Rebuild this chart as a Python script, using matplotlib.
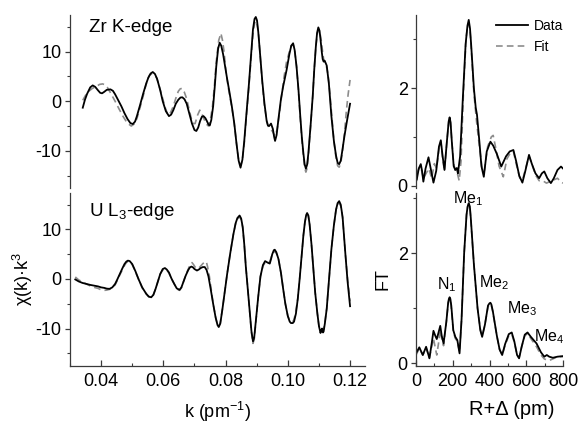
import matplotlib
matplotlib.use('Agg')
import matplotlib.pyplot as plt
from matplotlib.ticker import MultipleLocator

plt.rcParams['font.family'] = ['Liberation Sans', 'DejaVu Sans']
plt.rcParams['mathtext.fontset'] = 'custom'
plt.rcParams['mathtext.rm'] = 'Liberation Sans'
plt.rcParams['mathtext.it'] = 'Liberation Sans:italic'
plt.rcParams['mathtext.default'] = 'regular'
plt.rcParams['axes.unicode_minus'] = False

# ---------------- Zr K-edge, k-space ----------------
zr_k_data = [0.0341, 0.0348, 0.0355, 0.0365, 0.0373, 0.0381, 0.0390, 0.0397, 0.0403, 0.0410,
             0.0418, 0.0430, 0.0438, 0.0445, 0.0455, 0.0465, 0.0475, 0.0485, 0.0494, 0.0502,
             0.0509, 0.0515, 0.0525, 0.0535, 0.0545, 0.0552, 0.0559, 0.0566, 0.0573, 0.0580,
             0.0590, 0.0598, 0.0608, 0.0618, 0.0625, 0.0632, 0.0640, 0.0648, 0.0655, 0.0661,
             0.0668, 0.0675, 0.0684, 0.0692, 0.0700, 0.0706, 0.0712, 0.0718, 0.0724, 0.0729,
             0.0735, 0.0740, 0.0745, 0.0749, 0.0754, 0.0760, 0.0765, 0.0770, 0.0776, 0.0781,
             0.0786, 0.0792, 0.0798, 0.0805, 0.0812, 0.0820, 0.0828, 0.0835, 0.0842, 0.0848,
             0.0854, 0.0860, 0.0867, 0.0875, 0.0882, 0.0888, 0.0893, 0.0897, 0.0901, 0.0905,
             0.0911, 0.0918, 0.0925, 0.0932, 0.0936, 0.0940, 0.0946, 0.0952, 0.0956, 0.0959,
             0.0964, 0.0970, 0.0978, 0.0985, 0.0996, 0.1005, 0.1011, 0.1017, 0.1022, 0.1028,
             0.1034, 0.1040, 0.1045, 0.1050, 0.1054, 0.1058, 0.1062, 0.1066, 0.1073, 0.1080,
             0.1085, 0.1090, 0.1094, 0.1098, 0.1102, 0.1105, 0.1109, 0.1112, 0.1115, 0.1118,
             0.1121, 0.1125, 0.1132, 0.1140, 0.1148, 0.1155, 0.1160, 0.1165, 0.1170, 0.1175,
             0.1182, 0.1190, 0.1200]
zr_chi_data = [-1.3, 0.3, 1.5, 2.8, 3.2, 2.9, 2.2, 1.7, 1.6, 1.9,
               2.3, 2.4, 2.1, 1.4, 0.2, -1.0, -2.4, -3.6, -4.4, -4.6,
               -4.1, -3.0, -0.8, 1.5, 3.6, 4.8, 5.6, 5.9, 5.5, 4.5,
               2.2, 0.0, -2.0, -3.0, -2.7, -1.8, -0.5, 0.3, 0.75, 0.8,
               0.4, -0.5, -2.6, -4.5, -5.8, -6.0, -5.3, -4.0, -3.1, -3.0,
               -3.4, -4.0, -4.7, -4.9, -3.8, -1.0, 2.8, 7.0, 10.6, 11.8,
               11.2, 9.5, 7.2, 4.5, 2.0, -1.0, -4.5, -8.5, -12.0, -13.4,
               -11.8, -8.0, -2.5, 3.5, 9.5, 14.5, 16.6, 17.0, 16.3, 14.0,
               9.5, 4.0, -0.5, -4.0, -4.9, -5.0, -4.5, -5.6, -7.2, -8.0,
               -6.8, -3.5, 0.5, 3.0, 6.3, 9.5, 11.2, 11.7, 10.3, 7.0,
               2.5, -3.0, -7.2, -10.5, -12.7, -13.6, -12.8, -10.5, -5.0, 1.0,
               6.5, 11.0, 13.8, 14.9, 14.2, 12.5, 10.0, 8.5, 8.0, 8.2,
               7.8, 7.2, 3.5, -3.0, -8.0, -11.0, -12.4, -12.7, -12.0, -10.0,
               -7.0, -4.0, -0.5]

zr_k_fit = [0.0341, 0.0350, 0.0360, 0.0372, 0.0385, 0.0395, 0.0405, 0.0413, 0.0420, 0.0432,
            0.0445, 0.0458, 0.0470, 0.0484, 0.0497, 0.0506, 0.0515, 0.0525, 0.0535, 0.0543,
            0.0550, 0.0556, 0.0562, 0.0570, 0.0578, 0.0588, 0.0598, 0.0607, 0.0615, 0.0623,
            0.0632, 0.0640, 0.0648, 0.0654, 0.0660, 0.0667, 0.0675, 0.0684, 0.0692, 0.0697,
            0.0702, 0.0710, 0.0717, 0.0723, 0.0730, 0.0738, 0.0745, 0.0751, 0.0758, 0.0764,
            0.0770, 0.0778, 0.0785, 0.0790, 0.0795, 0.0801, 0.0808, 0.0815, 0.0822, 0.0829,
            0.0836, 0.0842, 0.0848, 0.0854, 0.0860, 0.0867, 0.0875, 0.0882, 0.0888, 0.0893,
            0.0897, 0.0901, 0.0906, 0.0912, 0.0918, 0.0924, 0.0930, 0.0935, 0.0940, 0.0945,
            0.0950, 0.0955, 0.0960, 0.0966, 0.0972, 0.0980, 0.0988, 0.0996, 0.1005, 0.1011,
            0.1017, 0.1022, 0.1028, 0.1034, 0.1040, 0.1045, 0.1050, 0.1054, 0.1058, 0.1062,
            0.1066, 0.1073, 0.1080, 0.1085, 0.1090, 0.1095, 0.1100, 0.1104, 0.1108, 0.1112,
            0.1115, 0.1119, 0.1122, 0.1126, 0.1130, 0.1136, 0.1142, 0.1148, 0.1155, 0.1160,
            0.1165, 0.1170, 0.1175, 0.1182, 0.1188, 0.1194, 0.1200]
zr_chi_fit = [0.2, 1.2, 2.0, 2.6, 3.0, 3.4, 3.5, 3.3, 2.8, 1.5,
              0.0, -1.6, -3.0, -4.4, -5.0, -4.6, -3.5, -1.3, 1.0, 3.0,
              4.5, 5.3, 5.5, 5.3, 4.8, 2.8, 0.5, -1.5, -2.8, -2.3,
              -1.0, 0.6, 2.0, 2.5, 2.6, 1.9, 0.5, -2.0, -4.0, -4.5,
              -4.5, -2.8, -1.8, -2.4, -3.5, -4.6, -5.0, -3.8, -1.0, 3.0,
              8.0, 12.3, 13.7, 12.3, 10.0, 6.2, 3.0, 0.5, -2.0, -5.2,
              -9.0, -12.0, -13.0, -11.8, -8.5, -3.0, 3.0, 8.8, 13.5, 15.7,
              16.2, 15.6, 13.5, 8.5, 3.5, -0.5, -3.0, -4.6, -5.5, -5.8,
              -6.0, -6.6, -7.0, -5.5, -3.0, 1.0, 5.0, 8.0, 10.0, 11.2,
              11.5, 10.2, 7.0, 2.2, -3.5, -7.8, -11.0, -13.4, -14.3, -13.5,
              -11.0, -5.2, 1.0, 6.5, 11.0, 13.7, 14.5, 13.5, 12.0, 9.8,
              8.5, 8.0, 7.5, 6.5, 5.0, 1.0, -3.5, -8.0, -11.5, -13.0,
              -13.3, -12.5, -10.5, -6.5, -2.0, 1.5, 4.3]

# ---------------- U L3-edge, k-space ----------------
u_k_data = [0.0317, 0.0328, 0.0340, 0.0352, 0.0365, 0.0378, 0.0390, 0.0400, 0.0410, 0.0418,
            0.0427, 0.0436, 0.0445, 0.0452, 0.0460, 0.0468, 0.0475, 0.0481, 0.0486, 0.0492,
            0.0500, 0.0510, 0.0520, 0.0532, 0.0545, 0.0553, 0.0561, 0.0568, 0.0575, 0.0583,
            0.0590, 0.0598, 0.0605, 0.0611, 0.0618, 0.0626, 0.0635, 0.0643, 0.0652, 0.0658,
            0.0665, 0.0672, 0.0680, 0.0685, 0.0690, 0.0695, 0.0700, 0.0708, 0.0714, 0.0720,
            0.0727, 0.0733, 0.0739, 0.0745, 0.0752, 0.0760, 0.0768, 0.0774, 0.0778, 0.0783,
            0.0790, 0.0797, 0.0805, 0.0815, 0.0825, 0.0832, 0.0838, 0.0845, 0.0850, 0.0855,
            0.0860, 0.0865, 0.0872, 0.0878, 0.0883, 0.0888, 0.0892, 0.0898, 0.0905, 0.0912,
            0.0920, 0.0927, 0.0935, 0.0942, 0.0946, 0.0950, 0.0955, 0.0958, 0.0963, 0.0970,
            0.0978, 0.0985, 0.0992, 0.1000, 0.1006, 0.1010, 0.1016, 0.1020, 0.1026, 0.1032,
            0.1038, 0.1045, 0.1050, 0.1055, 0.1059, 0.1062, 0.1066, 0.1070, 0.1076, 0.1082,
            0.1088, 0.1095, 0.1100, 0.1105, 0.1108, 0.1110, 0.1113, 0.1115, 0.1119, 0.1125,
            0.1132, 0.1140, 0.1148, 0.1155, 0.1160, 0.1165, 0.1170, 0.1176, 0.1185, 0.1192,
            0.1200]
u_chi_data = [-0.1, -0.5, -0.8, -1.0, -1.2, -1.35, -1.5, -1.7, -1.8, -1.95,
              -2.0, -1.7, -1.0, -0.1, 1.0, 2.1, 3.0, 3.5, 3.7, 3.6,
              3.0, 1.6, 0.0, -1.7, -3.0, -3.55, -3.7, -3.2, -2.0, -0.4,
              1.0, 2.0, 2.2, 1.9, 1.3, 0.1, -1.0, -1.9, -2.2, -1.7,
              -0.5, 0.7, 1.8, 2.3, 2.5, 2.35, 2.0, 1.7, 1.9, 2.2,
              2.4, 2.4, 1.8, 0.5, -2.0, -5.0, -7.8, -9.3, -9.7, -9.0,
              -6.0, -2.7, 1.0, 5.2, 9.0, 11.2, 12.3, 12.8, 12.2, 10.5,
              7.0, 2.5, -2.5, -7.0, -10.5, -12.6, -11.8, -8.0, -3.5, 0.5,
              2.8, 3.6, 3.3, 3.1, 4.0, 5.0, 5.8, 5.9, 5.4, 4.0,
              1.2, -2.0, -5.0, -7.5, -8.6, -8.9, -8.9, -8.6, -7.0, -4.0,
              0.0, 5.0, 8.8, 11.5, 12.9, 13.3, 12.8, 11.0, 7.0, 2.0,
              -2.8, -7.0, -9.5, -10.9, -10.3, -10.0, -10.8, -10.6, -9.0, -6.0,
              -0.5, 6.0, 10.8, 14.0, 15.3, 15.7, 15.0, 12.5, 5.0, -0.5,
              -5.5]

u_k_fit = [0.0317, 0.0328, 0.0340, 0.0352, 0.0365, 0.0378, 0.0390, 0.0400, 0.0410, 0.0418,
           0.0427, 0.0436, 0.0445, 0.0452, 0.0460, 0.0468, 0.0475, 0.0481, 0.0486, 0.0492,
           0.0500, 0.0510, 0.0520, 0.0532, 0.0545, 0.0553, 0.0561, 0.0568, 0.0575, 0.0583,
           0.0590, 0.0598, 0.0605, 0.0611, 0.0618, 0.0626, 0.0635, 0.0643, 0.0652, 0.0658,
           0.0665, 0.0672, 0.0680, 0.0686, 0.0692, 0.0697, 0.0702, 0.0708, 0.0714, 0.0720,
           0.0727, 0.0733, 0.0738, 0.0742, 0.0748, 0.0754, 0.0760, 0.0768, 0.0774, 0.0778,
           0.0783, 0.0790, 0.0797, 0.0805, 0.0815, 0.0825, 0.0832, 0.0838, 0.0845, 0.0850,
           0.0855, 0.0860, 0.0865, 0.0872, 0.0878, 0.0883, 0.0888, 0.0892, 0.0898, 0.0905,
           0.0912, 0.0920, 0.0927, 0.0935, 0.0942, 0.0950, 0.0958, 0.0963, 0.0970, 0.0978,
           0.0985, 0.0992, 0.1000, 0.1006, 0.1012, 0.1018, 0.1024, 0.1032, 0.1038, 0.1045,
           0.1050, 0.1055, 0.1059, 0.1062, 0.1066, 0.1070, 0.1076, 0.1082, 0.1088, 0.1095,
           0.1100, 0.1105, 0.1110, 0.1115, 0.1119, 0.1125, 0.1132, 0.1140, 0.1148, 0.1155,
           0.1160, 0.1165, 0.1170, 0.1176, 0.1185, 0.1192, 0.1200]
u_chi_fit = [0.4, -0.2, -0.6, -1.0, -1.4, -1.7, -1.9, -2.2, -2.3, -2.25,
             -2.1, -1.8, -1.2, -0.3, 0.8, 1.8, 2.7, 3.3, 3.5, 3.4,
             2.9, 1.5, 0.0, -1.8, -3.0, -3.6, -3.8, -3.2, -2.0, -0.4,
             1.0, 1.8, 2.0, 1.8, 1.2, 0.0, -1.0, -2.0, -2.3, -1.8,
             -0.5, 0.8, 2.0, 2.9, 3.3, 2.9, 2.4, 2.1, 2.2, 2.6,
             3.1, 3.4, 3.5, 2.5, 0.5, -2.2, -5.0, -7.7, -9.2, -9.5,
             -8.8, -6.0, -2.7, 1.0, 5.2, 9.0, 11.0, 12.1, 12.5, 12.0,
             10.3, 7.0, 2.5, -2.5, -7.0, -10.8, -13.0, -12.2, -8.2, -3.5,
             0.5, 2.6, 3.3, 3.3, 3.5, 5.0, 5.6, 5.2, 4.0, 1.2,
             -2.0, -5.0, -7.5, -8.3, -8.5, -8.5, -7.2, -4.0, 0.0, 5.0,
             8.7, 11.5, 12.8, 13.1, 12.6, 11.0, 7.0, 2.0, -2.8, -7.0,
             -9.5, -10.5, -10.4, -10.2, -8.8, -6.0, -0.5, 6.0, 10.8, 14.0,
             15.0, 15.3, 14.7, 12.3, 5.0, 0.0, -4.5]

# ---------------- Zr FT ----------------
zr_r_data = [0, 4, 15, 26, 33, 40, 52, 68, 80, 95, 110, 125, 135, 145, 155, 168, 178, 183,
             188, 195, 205, 214, 222, 228, 240, 255, 270, 280, 287, 294, 300, 315, 325, 332,
             345, 356, 369, 385, 405, 420, 440, 464, 490, 510, 530, 545, 562, 579, 595, 615,
             630, 650, 670, 685, 698, 715, 734, 750, 770, 789, 800]
zr_ft_data = [0.1, 0.12, 0.35, 0.44, 0.3, 0.08, 0.35, 0.58, 0.35, 0.06, 0.3, 0.8, 0.93, 0.6,
              0.32, 0.9, 1.32, 1.40, 1.30, 0.9, 0.4, 0.32, 0.36, 0.25, 0.6, 1.8, 2.9, 3.28,
              3.40, 3.22, 2.9, 2.0, 1.6, 1.45, 0.9, 0.4, 0.18, 0.7, 0.9, 0.82, 0.65, 0.39,
              0.6, 0.70, 0.73, 0.5, 0.2, 0.06, 0.3, 0.63, 0.45, 0.25, 0.15, 0.25, 0.29, 0.15,
              0.05, 0.15, 0.32, 0.39, 0.35]

zr_r_fit = [0, 10, 25, 40, 55, 70, 85, 100, 112, 125, 135, 145, 155, 168, 178, 183, 188, 195,
            205, 214, 225, 235, 245, 258, 272, 280, 287, 294, 300, 315, 330, 345, 360, 372,
            390, 410, 420, 435, 452, 475, 495, 515, 530, 545, 565, 580, 600, 615, 630, 650,
            670, 690, 710, 740, 770, 790, 800]
zr_ft_fit = [0.05, 0.3, 0.4, 0.15, 0.25, 0.35, 0.15, 0.45, 0.35, 0.75, 0.9, 0.55, 0.3, 0.9,
             1.30, 1.38, 1.28, 0.9, 0.45, 0.3, 0.25, 0.1, 0.5, 1.9, 3.0, 3.25, 3.33, 3.17,
             2.85, 1.9, 1.3, 0.8, 0.35, 0.3, 0.8, 1.0, 1.03, 0.75, 0.4, 0.18, 0.55, 0.68, 0.7,
             0.45, 0.15, 0.12, 0.4, 0.6, 0.45, 0.22, 0.1, 0.1, 0.05, 0.1, 0.15, 0.07, 0.05]

# ---------------- U FT ----------------
u_r_data = [0, 18, 37, 55, 73, 85, 95, 105, 113, 122, 132, 140, 150, 165, 175, 179, 183, 187,
            192, 203, 214, 225, 237, 248, 262, 275, 281, 287, 293, 298, 315, 335, 350, 360,
            375, 392, 400, 405, 410, 418, 440, 455, 469, 485, 505, 521, 535, 550, 561, 575,
            592, 607, 625, 656, 680, 698, 712, 725, 745, 770, 800]
u_ft_data = [0.18, 0.29, 0.15, 0.30, 0.09, 0.35, 0.59, 0.5, 0.44, 0.55, 0.68, 0.5, 0.36, 0.75,
             1.1, 1.17, 1.2, 1.17, 1.05, 0.6, 0.48, 0.42, 0.18, 0.8, 2.0, 2.7, 2.85, 2.91,
             2.85, 2.65, 1.8, 1.0, 0.6, 0.48, 0.7, 1.05, 1.09, 1.1, 1.07, 0.95, 0.5, 0.25,
             0.15, 0.35, 0.53, 0.56, 0.4, 0.15, 0.09, 0.3, 0.52, 0.56, 0.48, 0.36, 0.2, 0.12,
             0.15, 0.12, 0.1, 0.12, 0.13]

u_r_fit = [0, 18, 37, 55, 73, 85, 95, 105, 113, 122, 132, 140, 150, 165, 175, 179, 183, 187,
           192, 203, 214, 225, 237, 248, 262, 275, 281, 287, 293, 298, 315, 335, 350, 360,
           375, 392, 400, 405, 410, 418, 440, 455, 469, 485, 505, 521, 535, 550, 561, 575,
           592, 607, 625, 656, 680, 698, 712, 725, 745, 770, 800]
u_ft_fit = [0.15, 0.27, 0.15, 0.28, 0.1, 0.3, 0.45, 0.28, 0.15, 0.35, 0.6, 0.45, 0.32, 0.75,
            1.08, 1.15, 1.18, 1.15, 1.0, 0.58, 0.45, 0.4, 0.2, 0.8, 2.0, 2.7, 2.84, 2.9,
            2.84, 2.63, 1.8, 1.0, 0.62, 0.5, 0.7, 1.03, 1.07, 1.08, 1.05, 0.93, 0.5, 0.25,
            0.15, 0.33, 0.5, 0.53, 0.38, 0.15, 0.1, 0.3, 0.5, 0.54, 0.45, 0.3, 0.15, 0.08,
            0.06, 0.05, 0.08, 0.12, 0.12]

# ---------------- labels ----------------
edge_labels = ['Zr K-edge', 'U L$_3$-edge']
peak_labels = ['Me$_1$', 'N$_1$', 'Me$_2$', 'Me$_3$', 'Me$_4$']
peak_pos_r = [282, 168, 424, 579, 725]
peak_pos_ft = [3.0, 1.42, 1.47, 1.0, 0.48]
k_ticks = [0.04, 0.06, 0.08, 0.10, 0.12]
r_ticks = [0, 200, 400, 600, 800]

W, H = 580, 423
fig = plt.figure(figsize=(W / 100, H / 100), dpi=100)

def rect(x0, y0, x1, y1):
    return [x0 / W, 1 - y1 / H, (x1 - x0) / W, (y1 - y0) / H]

ax_tl = fig.add_axes(rect(70, 15, 365, 188))
ax_bl = fig.add_axes(rect(70, 192.7, 365, 365.7))
ax_tr = fig.add_axes(rect(416, 15, 563, 188))
ax_br = fig.add_axes(rect(416, 192.7, 563, 365.7))

spine_col = '#3a3a3a'
data_kw = dict(color='black', lw=1.3, solid_joinstyle='round')
fit_kw = dict(color='#8c8c8c', lw=1.2, ls=(0, (4, 2.5)))

for ax in (ax_tl, ax_bl, ax_tr, ax_br):
    for s in ('top', 'right'):
        ax.spines[s].set_visible(False)
    for s in ('left', 'bottom'):
        ax.spines[s].set_color(spine_col)
        ax.spines[s].set_linewidth(0.9)
    ax.tick_params(axis='y', which='both', direction='out', colors=spine_col,
                   labelcolor='black', labelsize=13, pad=2.5)
    ax.tick_params(axis='y', which='major', length=3.5, width=0.9)
    ax.tick_params(axis='y', which='minor', length=2.5, width=0.8)
    ax.tick_params(axis='x', which='both', direction='in', colors=spine_col,
                   labelcolor='black', labelsize=13, pad=5)
    ax.tick_params(axis='x', which='major', length=4, width=0.9)
    ax.tick_params(axis='x', which='minor', length=2.5, width=0.8)
    ax.patch.set_alpha(0)

for ax in (ax_tl, ax_tr):
    ax.spines['bottom'].set_visible(False)
    ax.tick_params(axis='x', which='both', bottom=False, labelbottom=False)

# k-space panels
ax_tl.plot(zr_k_fit, zr_chi_fit, **fit_kw)
ax_tl.plot(zr_k_data, zr_chi_data, **data_kw)
ax_bl.plot(u_k_fit, u_chi_fit, **fit_kw)
ax_bl.plot(u_k_data, u_chi_data, **data_kw)
for ax in (ax_tl, ax_bl):
    ax.set_xlim(0.03, 0.1248)
    ax.set_ylim(-17.5, 17.4)
    ax.yaxis.set_major_locator(MultipleLocator(10))
    ax.yaxis.set_minor_locator(MultipleLocator(5))
    ax.set_xticks(k_ticks)
    ax.set_xticklabels(['%.2f' % t for t in k_ticks])
    ax.xaxis.set_minor_locator(MultipleLocator(0.01))

ax_tl.text(0.0362, 14.9, edge_labels[0], fontsize=13.5, ha='left', va='center')
ax_bl.text(0.0362, 13.6, edge_labels[1], fontsize=13.5, ha='left', va='center')

ax_bl.set_xlabel('k (pm$^{-1}$)', fontsize=13)
ax_bl.xaxis.set_label_coords(0.5, -0.2)
ax_bl.xaxis.label.set_va('top')
ax_bl.set_ylabel('χ(k)·k$^3$', fontsize=13)
ax_bl.yaxis.set_label_coords(-0.12, 0.5)

# FT panels
ax_tr.plot(zr_r_fit, zr_ft_fit, label='Fit', **fit_kw)
ax_tr.plot(zr_r_data, zr_ft_data, label='Data', **data_kw)
ax_br.plot(u_r_fit, u_ft_fit, **fit_kw)
ax_br.plot(u_r_data, u_ft_data, **data_kw)
for ax in (ax_tr, ax_br):
    ax.set_xlim(0, 800)
    ax.yaxis.set_major_locator(MultipleLocator(2))
    ax.yaxis.set_minor_locator(MultipleLocator(1))
    ax.set_xticks(r_ticks)
    ax.xaxis.set_minor_locator(MultipleLocator(100))
ax_tr.set_ylim(-0.05, 3.5)
ax_br.set_ylim(-0.044, 3.1)

h, l = ax_tr.get_legend_handles_labels()
ax_tr.legend(h[::-1], l[::-1], loc='upper right', bbox_to_anchor=(1.0, 0.975),
             frameon=False, fontsize=10, handlelength=2.3, handletextpad=0.4,
             labelspacing=0.45, borderpad=0, borderaxespad=0)

for lab, r, v in zip(peak_labels, peak_pos_r, peak_pos_ft):
    ax_br.text(r, v, lab, fontsize=11.5, ha='center', va='center', clip_on=False)

ax_br.set_xlabel('R+Δ (pm)', fontsize=14.5)
ax_br.xaxis.set_label_coords(0.65, -0.2)
ax_br.xaxis.label.set_va('top')
ax_br.set_ylabel('FT', fontsize=13)
ax_br.yaxis.set_label_coords(-0.17, 0.5)

fig.savefig('out.png', dpi=100)
